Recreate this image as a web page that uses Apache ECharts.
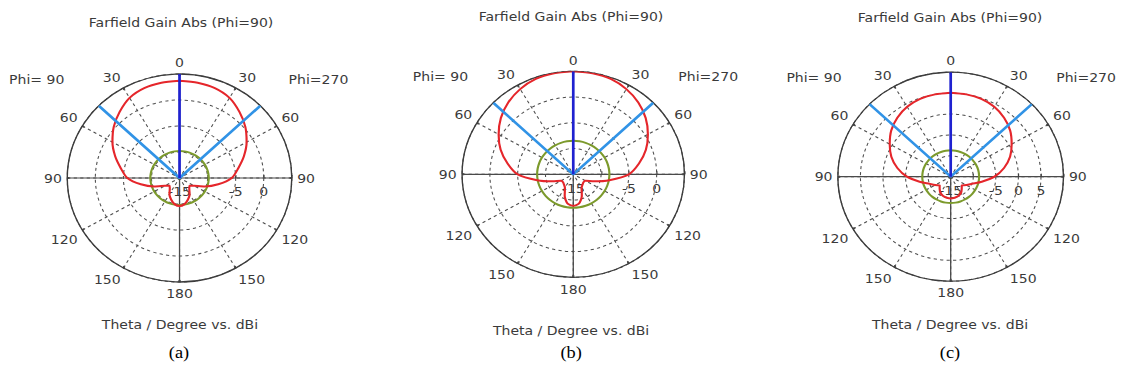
<!DOCTYPE html>
<html>
<head>
<meta charset="utf-8">
<script src="https://cdn.jsdelivr.net/npm/echarts@6/dist/echarts.min.js"></script>
<style>
  html, body { margin: 0; padding: 0; background: #fff; overflow: hidden; }
  /* the source figure is stretched a bit horizontally, so the chart is too */
  #main { width: 1043px; height: 381px; transform: scaleX(1.0796); transform-origin: 0 0; }
</style>
</head>
<body>
<div id="main"></div>
<script>
// theta (deg) from boresight, same list used for both half-planes
const thetaDeg = [0, 10, 20, 30, 40, 50, 60, 70, 80, 90, 100, 110, 120, 130, 140, 150, 160, 170, 180]
// gain in dBi
const gainA = [3.7, 3.6, 3.4, 2.8, 1.6, 0.3, -1.2, -2.8, -4.4, -5.7, -8.0, -10.2, -12.0, -12.7, -12.3, -11.4, -10.6, -9.9, -9.6]
const gainB = [5.0, 4.9, 4.7, 4.1, 3.2, 2.0, 0.5, -1.1, -3.0, -5.0, -8.4, -11.0, -12.5, -12.6, -12.4, -12.0, -10.5, -9.2, -8.9]
const gainC = [5.1, 5.0, 4.8, 4.3, 3.4, 2.2, 0.6, -1.0, -3.0, -5.3, -8.0, -10.0, -11.0, -11.8, -11.2, -10.5, -10.1, -9.9, -9.8]
// side lobe level circle (green), dBi
const sllA = -9.8
const sllB = -8.5
const sllC = -8.7
// 3 dB beam edges (light blue), deg
const beamEdgeA = 46
const beamEdgeB = 46
const beamEdgeC = 46
const mainDir = 0
// radial scales
const rMinA = -15, rMaxA = 5
const rMinB = -15, rMaxB = 5
const rMinC = -15, rMaxC = 10
const rLabelsA = [-15, -5, 0]
const rLabelsB = [-15, -5, 0]
const rLabelsC = [-15, -5, 0, 5]
const circleDeg = [0, 10, 20, 30, 40, 50, 60, 70, 80, 90, 100, 110, 120, 130, 140, 150, 160, 170, 180,
  190, 200, 210, 220, 230, 240, 250, 260, 270, 280, 290, 300, 310, 320, 330, 340, 350, 360]

// theta measured clockwise from top -> angle axis value (startAngle 0 = east, clockwise)
const toV = (t) => ((t % 360) + 270) % 360

function pattern(gain) {
  const right = thetaDeg.map((t, i) => [gain[i], toV(t)])
  const left = thetaDeg.slice().reverse().map((t, i) => [gain[gain.length - 1 - i], toV(360 - t)])
  return right.concat(left)
}

const txt = '#3a3a3a'
const fnt = 13
const plots = [
  { center: [166.3, 178], r: 104, gain: gainA, sll: sllA, edge: beamEdgeA, min: rMinA, max: rMaxA, labels: rLabelsA },
  { center: [531, 174.3], r: 103, gain: gainB, sll: sllB, edge: beamEdgeB, min: rMinB, max: rMaxB, labels: rLabelsB },
  { center: [880.6, 176.7], r: 104.5, gain: gainC, sll: sllC, edge: beamEdgeC, min: rMinC, max: rMaxC, labels: rLabelsC }
]

const polar = [], angleAxis = [], radiusAxis = [], series = []
plots.forEach((p, k) => {
  const dashed = 2 * k, solid = 2 * k + 1
  polar.push({ center: p.center, radius: p.r }, { center: p.center, radius: p.r })
  angleAxis.push({
    polarIndex: dashed, type: 'value', min: 0, max: 360, interval: 30, startAngle: 0, clockwise: true,
    axisLine: { lineStyle: { color: '#3c3c3c', width: 1.3 } },
    axisTick: { show: true, inside: true, length: 2, lineStyle: { color: '#3c3c3c', width: 2 } },
    axisLabel: {
      margin: 5, color: txt, fontSize: fnt, fontFamily: 'DejaVu Sans',
      formatter: (v) => { const t = (v + 90) % 360; return String(t <= 180 ? t : 360 - t) }
    },
    splitLine: { show: true, lineStyle: { type: [3, 3], color: '#4d4d4d', width: 1 } }
  }, {
    polarIndex: solid, type: 'value', min: 0, max: 360, interval: 90, startAngle: 0, clockwise: true,
    axisLine: { show: false }, axisTick: { show: false }, axisLabel: { show: false },
    splitLine: { show: true, lineStyle: { color: '#4a4a4a', width: 1.2 } }
  })
  radiusAxis.push({
    polarIndex: dashed, type: 'value', min: p.min, max: p.max, interval: 5,
    axisLine: { show: false },
    axisTick: { show: true, length: 3, lineStyle: { color: '#3c3c3c' } },
    axisLabel: {
      margin: -20, color: txt, fontSize: fnt, fontFamily: 'DejaVu Sans',
      formatter: (v) => p.labels.indexOf(v) >= 0 ? String(v) : ''
    },
    splitLine: { show: true, lineStyle: { type: [3, 3], color: '#4d4d4d', width: 1 } }
  }, {
    polarIndex: solid, type: 'value', min: p.min, max: p.max, interval: 5,
    axisLine: { show: false }, axisTick: { show: false }, axisLabel: { show: false }, splitLine: { show: false }
  })
  series.push({
    type: 'line', coordinateSystem: 'polar', polarIndex: dashed, symbol: 'none', smooth: true, z: 3,
    lineStyle: { color: '#7c9a2c', width: 2 },
    data: circleDeg.map(t => [p.sll, toV(t)])
  }, {
    type: 'line', coordinateSystem: 'polar', polarIndex: dashed, symbol: 'none', smooth: 0.25, z: 4,
    lineStyle: { color: '#e5262b', width: 2 },
    data: pattern(p.gain)
  }, {
    type: 'line', coordinateSystem: 'polar', polarIndex: dashed, symbol: 'none', z: 5,
    lineStyle: { color: '#3193e6', width: 2.5 },
    data: [[p.max, toV(360 - p.edge)], [p.min, toV(mainDir)], [p.max, toV(p.edge)]]
  }, {
    type: 'line', coordinateSystem: 'polar', polarIndex: dashed, symbol: 'none', z: 6,
    lineStyle: { color: '#1f22d0', width: 2.5 },
    data: [[p.min, toV(mainDir)], [p.max, toV(mainDir)]]
  })
})

// figure texts: [text, x, y]
const titles = [['Farfield Gain Abs (Phi=90)', 167.7, 22], ['Farfield Gain Abs (Phi=90)', 528.9, 16], ['Farfield Gain Abs (Phi=90)', 880, 17]]
const phiLeft = [['Phi= 90', 34, 79], ['Phi= 90', 408, 76], ['Phi= 90', 754, 77]]
const phiRight = [['Phi=270', 295, 79], ['Phi=270', 656, 76], ['Phi=270', 1006, 77]]
const xTitles = [['Theta / Degree vs. dBi', 166.7, 324], ['Theta / Degree vs. dBi', 529, 330], ['Theta / Degree vs. dBi', 880, 324]]
const captions = [['(a)', 165.8, 352], ['(b)', 529, 352], ['(c)', 880, 352]]

const graphic = []
titles.concat(phiLeft, phiRight, xTitles).forEach(([s, x, y]) => {
  graphic.push({ type: 'text', x: x, y: y, style: { text: s, fill: txt, font: fnt + 'px "DejaVu Sans"', align: 'center', verticalAlign: 'middle' } })
})
captions.forEach(([s, x, y]) => {
  graphic.push({ type: 'text', x: x, y: y, style: { text: s, fill: '#000', font: '17px "Liberation Serif"', align: 'center', verticalAlign: 'middle' } })
})

const myChart = echarts.init(document.getElementById('main'), null, { renderer: 'svg' })
myChart.setOption({
  animation: false,
  polar: polar,
  angleAxis: angleAxis,
  radiusAxis: radiusAxis,
  series: series,
  graphic: graphic
})
</script>
</body>
</html>
